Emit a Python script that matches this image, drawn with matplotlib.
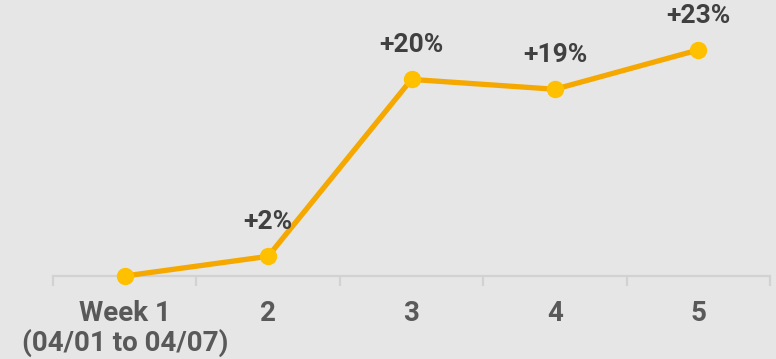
import matplotlib
matplotlib.use('Agg')
import matplotlib.pyplot as plt
import numpy as np

weeks = ['Week 1\n(04/01 to 04/07)', '2', '3', '4', '5']
growth = [0, 2, 20, 19, 23]
labels = ['', '+2%', '+20%', '+19%', '+23%']

bg = '#e6e6e6'
line_col = '#f5a800'
dot_col = '#ffc000'

plt.rcParams['font.family'] = ['Roboto', 'DejaVu Sans']

fig = plt.figure(figsize=(7.76, 3.59), dpi=100, facecolor=bg)
ax = fig.add_axes([53 / 776, 83 / 359, 717 / 776, 276 / 359])
ax.set_facecolor(bg)

x = np.arange(len(weeks))
ax.plot(x, growth, color=line_col, lw=3.8, zorder=3, clip_on=False)
ax.plot(x, growth, 'o', color=dot_col, ms=11.5, zorder=4, clip_on=False)

for xi, yi, lab in zip(x, growth, labels):
    if lab:
        ax.annotate(lab, (xi, yi), xytext=(0, 16), textcoords='offset points',
                    ha='center', va='bottom', fontsize=19, fontweight='bold',
                    color='#404040')

ax.set_xlim(-0.5, len(weeks) - 0.5)
ax.set_ylim(0, 28.08)

for s in ['top', 'right', 'left']:
    ax.spines[s].set_visible(False)
ax.spines['bottom'].set_color('#d2d2d2')
ax.spines['bottom'].set_linewidth(1.6)
ax.set_yticks([])

ax.set_xticks(x)
ax.set_xticklabels(weeks, fontsize=20, fontweight='bold', color='#595959',
                   linespacing=1.1)
ax.tick_params(axis='x', which='major', length=0, pad=17)
ax.set_xticks(np.arange(-0.5, len(weeks)), minor=True)
ax.tick_params(axis='x', which='minor', length=7, width=1.6, color='#d2d2d2')

fig.savefig('out.png', dpi=100, facecolor=bg)
